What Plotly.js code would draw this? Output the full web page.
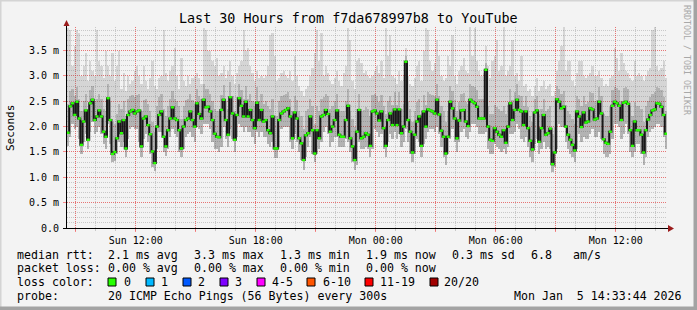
<!DOCTYPE html>
<html><head><meta charset="utf-8">
<script src="https://cdn.plot.ly/plotly-3.0.1.min.js"></script>
<style>html,body{margin:0;padding:0;background:#f3f3f3;overflow:hidden}#chart{width:697px;height:310px}</style>
</head><body><div id="chart"></div>
<script>
// ---- data (milliseconds), one value per 400 s step, 30 hours ----
const START_UTC = [2026, 0, 4, 8, 33, 44];
const END_LABEL = '2026-01-05 14:33:44';
const START_LABEL = '2026-01-04 08:33:44';
const STEP_SECONDS = 400;

const median = [
1.88,2.40,2.46,2.23,2.49,2.16,1.64,2.10,2.32,1.74,
2.46,2.53,2.13,2.20,2.32,2.20,1.90,1.80,2.56,2.13,
1.46,1.50,1.77,2.10,1.87,2.13,1.57,2.23,2.30,2.33,
2.26,2.30,2.32,1.61,2.16,2.20,2.03,1.85,1.51,1.28,
2.00,2.23,2.30,1.80,1.61,1.93,2.16,2.38,2.16,2.13,
1.93,1.57,2.00,2.13,2.16,2.30,2.13,2.00,2.46,2.25,
2.16,2.53,2.38,2.39,2.30,2.13,1.86,1.80,1.79,
2.33,2.53,2.13,1.84,2.58,2.26,1.74,2.23,2.56,2.41,
2.20,2.49,2.20,2.33,2.13,1.97,2.47,2.13,2.33,2.10,
2.13,1.93,1.87,2.20,1.57,1.57,2.13,2.26,2.30,2.33,
2.36,2.20,1.77,2.28,2.16,1.77,1.67,1.34,1.83,1.87,
2.20,1.93,1.47,1.93,1.77,2.20,2.23,2.33,2.25,1.90,
2.00,2.13,2.32,1.84,1.80,1.80,2.13,2.41,1.77,1.61,
1.34,1.90,2.33,1.77,1.80,1.87,1.84,1.62,
2.30,2.32,2.26,2.12,2.30,1.97,1.62,2.13,2.26,2.03,
2.34,2.03,2.34,1.87,2.00,3.28,2.13,1.90,1.49,1.84,
2.10,2.20,1.62,2.30,2.00,2.34,2.32,2.30,2.26,2.53,
2.24,1.92,1.80,1.47,1.80,2.49,2.36,2.16,1.77,2.12,
2.32,2.33,2.10,2.01,2.53,2.49,2.46,2.39,2.16,2.16,
2.16,3.12,2.00,1.74,1.72,1.97,1.90,1.84,1.80,1.93,
1.68,2.00,2.46,2.13,2.33,2.53,
2.33,2.30,2.03,2.30,1.97,1.72,1.55,2.28,2.32,1.70,
1.97,2.23,1.84,1.87,1.96,1.26,1.49,2.54,2.49,2.36,
2.39,2.00,1.84,1.74,1.64,1.53,2.30,2.20,1.99,2.28,
2.08,2.10,2.36,2.34,2.14,2.16,2.49,2.26,1.75,1.68,
1.66,1.90,2.41,2.49,2.46,2.41,2.13,2.47,2.49,2.45,
1.93,1.62,2.10,1.93,1.93,1.84,1.49,1.93,2.14,2.23,
2.32,2.34,2.46,2.45,2.39,2.23,1.86
];

const smokeMin = [
1.62,1.80,2.05,1.95,2.00,1.75,1.45,1.70,1.85,1.55,
1.90,2.10,1.85,1.90,2.00,1.85,1.65,1.55,2.05,1.65,
1.30,1.32,1.45,1.70,1.60,1.70,1.40,1.75,1.95,2.00,
1.95,1.95,1.70,1.40,1.75,1.85,1.70,1.45,1.20,1.12,
1.55,1.90,1.90,1.50,1.42,1.55,1.80,1.95,1.85,1.80,
1.50,1.40,1.55,1.80,1.85,1.90,1.80,1.70,2.00,1.95,
1.85,2.05,2.05,2.05,1.95,1.70,1.55,1.55,1.50,
1.60,2.00,1.75,1.60,1.95,1.75,1.50,1.80,2.05,2.00,
1.90,2.00,1.90,1.90,1.80,1.65,1.90,1.80,1.90,1.80,
1.80,1.65,1.60,1.70,1.38,1.38,1.60,1.95,2.00,2.00,
2.00,1.70,1.55,1.85,1.70,1.50,1.35,1.15,1.40,1.60,
1.80,1.45,1.30,1.45,1.55,1.70,1.90,2.00,1.85,1.60,
1.70,1.80,1.80,1.60,1.60,1.60,1.75,1.70,1.50,1.30,
1.15,1.25,1.70,1.55,1.55,1.60,1.55,1.40,
1.55,1.95,1.90,1.80,1.85,1.55,1.40,1.70,1.85,1.75,
1.90,1.75,1.85,1.60,1.70,1.95,1.70,1.45,1.30,1.45,
1.75,1.70,1.40,1.65,1.75,1.90,1.95,1.95,1.90,2.00,
1.85,1.60,1.40,1.25,1.45,1.75,1.95,1.70,1.50,1.70,
1.90,1.95,1.80,1.75,1.90,2.05,2.05,2.00,1.85,1.85,
1.85,1.90,1.55,1.45,1.45,1.65,1.60,1.55,1.50,1.55,
1.45,1.60,1.85,1.85,1.90,2.05,
1.95,1.75,1.70,1.80,1.60,1.40,1.30,1.65,1.75,1.45,
1.55,1.70,1.55,1.60,1.55,1.10,1.20,1.55,2.05,2.00,
2.00,1.70,1.55,1.45,1.40,1.30,1.55,1.85,1.70,1.80,
1.75,1.75,1.85,1.95,1.80,1.80,1.90,1.75,1.45,1.40,
1.40,1.45,1.75,2.05,2.05,2.00,1.75,1.85,2.05,1.85,
1.50,1.40,1.50,1.65,1.65,1.45,1.25,1.40,1.80,1.90,
1.95,2.00,2.05,2.05,2.00,1.80,1.55
];

const smokeUpper = [
2.45,2.70,2.75,2.60,2.78,2.55,2.30,2.50,2.65,2.35,
2.72,2.80,2.50,2.55,2.65,2.55,2.35,2.30,2.85,2.50,
2.10,2.05,2.25,2.45,2.35,2.50,2.20,2.55,2.60,2.62,
2.58,2.62,2.65,2.30,2.52,2.55,2.45,2.30,2.10,1.90,
2.40,2.58,2.65,2.35,2.20,2.40,2.55,2.70,2.55,2.50,
2.40,2.15,2.40,2.52,2.55,2.65,2.52,2.45,2.75,2.60,
2.55,2.85,2.75,2.75,2.65,2.50,2.35,2.30,2.30,
2.62,2.82,2.50,2.35,2.88,2.60,2.30,2.58,2.85,2.72,
2.55,2.80,2.55,2.65,2.50,2.40,2.78,2.50,2.65,2.45,
2.50,2.40,2.35,2.55,2.20,2.20,2.50,2.60,2.62,2.65,
2.68,2.55,2.30,2.60,2.52,2.30,2.20,1.95,2.30,2.35,
2.55,2.40,2.05,2.40,2.30,2.55,2.58,2.65,2.60,2.35,
2.40,2.50,2.65,2.35,2.30,2.30,2.50,2.75,2.30,2.15,
2.00,2.35,2.65,2.30,2.32,2.38,2.35,2.20,
2.62,2.65,2.60,2.48,2.62,2.40,2.25,2.50,2.60,2.42,
2.68,2.42,2.68,2.35,2.45,3.40,2.50,2.35,2.10,2.30,
2.48,2.55,2.25,2.62,2.42,2.68,2.65,2.62,2.60,2.85,
2.60,2.40,2.30,2.10,2.30,2.80,2.70,2.52,2.30,2.48,
2.65,2.66,2.48,2.45,2.85,2.80,2.78,2.72,2.55,2.55,
2.55,3.25,2.40,2.25,2.25,2.42,2.38,2.35,2.30,2.40,
2.25,2.42,2.75,2.52,2.68,2.85,
2.62,2.60,2.40,2.60,2.38,2.20,2.10,2.55,2.60,2.25,
2.35,2.55,2.30,2.35,2.40,1.85,2.00,2.80,2.75,2.65,
2.70,2.42,2.30,2.25,2.15,2.05,2.60,2.55,2.40,2.60,
2.45,2.48,2.68,2.66,2.50,2.52,2.78,2.60,2.25,2.20,
2.20,2.38,2.72,2.78,2.76,2.72,2.50,2.76,2.78,2.75,
2.40,2.20,2.48,2.40,2.40,2.35,2.10,2.40,2.50,2.58,
2.65,2.68,2.78,2.76,2.72,2.58,2.30
];

const smokeMax = [
3.95,3.90,3.20,3.60,3.90,3.85,3.00,3.20,3.45,2.90,
3.30,3.10,3.00,3.90,3.30,3.20,2.95,3.50,3.20,3.00,
3.45,2.90,3.20,3.50,2.75,3.05,2.70,3.00,2.85,2.90,
3.10,3.20,3.00,2.85,3.20,2.90,2.75,2.95,3.30,2.80,
2.75,2.95,3.00,3.90,3.05,2.90,3.10,3.20,3.55,3.00,
2.75,3.35,2.90,2.80,3.00,2.85,2.95,3.00,3.05,2.95,
2.85,3.95,3.90,3.50,3.50,3.30,3.20,3.35,3.00,
3.05,3.20,2.95,3.10,3.30,3.00,2.85,3.05,3.20,3.30,
3.90,3.50,3.55,3.20,3.05,2.90,3.10,2.95,3.00,2.95,
3.00,3.20,3.80,3.85,3.40,2.90,2.95,3.05,3.10,3.00,
2.95,3.10,2.90,3.40,3.00,2.80,2.70,2.60,2.75,2.80,
3.00,3.15,3.45,3.90,3.30,3.85,3.00,3.20,3.05,2.90,
2.85,2.95,3.10,2.90,2.80,3.05,3.20,3.95,3.70,2.90,
2.75,3.30,3.35,3.25,3.05,3.10,3.00,2.95,
3.00,3.10,3.20,3.05,3.30,2.95,3.95,3.40,3.80,3.00,
2.95,2.85,3.10,2.90,3.00,3.55,3.00,2.85,2.80,2.95,
3.20,3.30,2.90,3.50,3.95,3.90,3.30,3.10,3.25,3.70,
3.40,3.00,2.90,2.95,3.40,3.20,3.80,3.00,2.85,3.10,
3.20,3.35,3.10,3.05,3.97,3.40,3.95,3.30,3.10,3.00,
3.05,3.60,3.20,2.95,3.30,3.40,3.70,3.10,3.20,3.97,
3.00,3.10,3.20,3.70,3.00,3.05,
2.90,3.40,2.80,2.85,2.70,2.75,2.60,2.80,2.95,2.70,
2.80,2.90,2.75,2.80,2.85,2.60,2.70,3.10,3.30,3.60,
3.97,3.10,3.30,3.30,2.90,2.80,3.05,3.30,3.30,3.00,
2.95,3.00,3.05,3.20,3.00,3.00,3.10,2.95,2.80,2.85,
2.80,2.95,3.00,3.55,3.35,3.10,3.45,3.25,3.10,3.05,
2.95,2.90,3.30,3.00,3.05,3.00,2.90,3.00,3.10,3.15,
3.90,3.97,3.20,3.10,3.15,3.30,2.95
];

const xTickVals = ['2026-01-04 09:00','2026-01-04 12:00','2026-01-04 15:00','2026-01-04 18:00','2026-01-04 21:00',
                   '2026-01-05 00:00','2026-01-05 03:00','2026-01-05 06:00','2026-01-05 09:00','2026-01-05 12:00'];
const xTickText = ['','Sun 12:00','','Sun 18:00','','Mon 00:00','','Mon 06:00','','Mon 12:00'];
const yTickVals = [0, 0.5, 1.0, 1.5, 2.0, 2.5, 3.0, 3.5];
const yTickText = ['0.0','0.5 m','1.0 m','1.5 m','2.0 m','2.5 m','3.0 m','3.5 m'];

const titleText = 'Last 30 Hours from f7da678997b8 to YouTube';
const rttStats = ['median rtt:', '2.1 ms avg', '3.3 ms max', '1.3 ms min', '1.9 ms now', '0.3 ms sd', '6.8', 'am/s'];
const lossStats = ['packet loss:', '0.00 % avg', '0.00 % max', '0.00 % min', '0.00 % now'];
const lossLabels = ['0','1','2','3','4-5','6-10','11-19','20/20'];
const lossColors = ['#26ff00','#00b8ff','#0059ff','#7e00ff','#ff00ff','#ff5500','#ff0000','#a10000'];
const probeText = ['probe:', '20 ICMP Echo Pings (56 Bytes) every 300s', 'Mon Jan\u00a0\u00a05 14:33:44 2026'];

// ---- layout geometry (pixels) ----
const W = 697, H = 310, L = 67, R = 667, T = 27, B = 228;
const px = x => (x - L) / (R - L);
const py = y => (B - y) / (B - T);
const FONT = 'DejaVu Sans Mono';

const t0 = Date.UTC.apply(null, START_UTC);
const stepMs = STEP_SECONDS * 1000;
const times = median.map((_, i) => t0 + (i + 0.5) * stepMs);

const traces = [
  { type: 'bar', x: times, base: smokeMin, y: smokeMax.map((v, i) => v - smokeMin[i]), width: stepMs,
    marker: { color: 'rgba(110,110,110,0.22)', line: { width: 0 } }, hoverinfo: 'skip' },
  { type: 'bar', x: times, base: smokeMin, y: smokeUpper.map((v, i) => v - smokeMin[i]), width: stepMs,
    marker: { color: 'rgba(60,60,60,0.22)', line: { width: 0 } }, hoverinfo: 'skip' },
  { type: 'scatter', mode: 'lines', x: times, y: median,
    line: { shape: 'hvh', color: '#181818', width: 2 }, hoverinfo: 'skip' },
  { type: 'scatter', mode: 'markers', x: times, y: median,
    marker: { symbol: 'line-ew', size: 2.2, color: '#26ff00', line: { width: 2.4, color: '#26ff00' } }, hoverinfo: 'skip' }
];

const shapes = [];
const annotations = [];
function rectPx(x0, y0, x1, y1, fill, lineColor, lw) {
  shapes.push({ type: 'rect', xref: 'paper', yref: 'paper', x0: px(x0), x1: px(x1), y0: py(y1), y1: py(y0),
    fillcolor: fill, line: { color: lineColor || fill, width: lw || 0 }, layer: 'above' });
}
function linePx(x0, y0, x1, y1, color, w) {
  shapes.push({ type: 'line', xref: 'paper', yref: 'paper', x0: px(x0), x1: px(x1), y0: py(y0), y1: py(y1),
    line: { color: color, width: w }, layer: 'above' });
}
function triPx(pts, color) {
  const p = pts.map((q, k) => (k ? 'L' : 'M') + px(q[0]) + ',' + py(q[1])).join(' ') + ' Z';
  shapes.push({ type: 'path', xref: 'paper', yref: 'paper', path: p, fillcolor: color, line: { color: color, width: 0 }, layer: 'above' });
}
function textPx(x, y, text, opts) {
  annotations.push(Object.assign({ xref: 'paper', yref: 'paper', x: px(x), y: py(y), text: text, showarrow: false,
    xanchor: 'left', yanchor: 'middle', borderpad: 0, font: { family: FONT, size: 11.6, color: '#000' } }, opts || {}));
}

// frame
rectPx(0, 0, W, 1.5, '#d4d4d4');
rectPx(0, 0, 1.5, H, '#d4d4d4');
rectPx(W - 3.5, 0, W, H, '#a3a3a3');
rectPx(0, H - 3.5, W, H, '#a3a3a3');

// axes + arrows
linePx(63, 228.5, 668, 228.5, '#000', 1);
linePx(66.5, 229, 66.5, 25, '#000', 1);
triPx([[668, 225], [668, 232], [674, 228.5]], '#9b1c1c');
triPx([[63.5, 26], [69.5, 26], [66.5, 20]], '#9b1c1c');

// title, axis title, side text
textPx(348, 18.5, titleText, { xanchor: 'center', font: { family: FONT, size: 13.4, color: '#000' } });
textPx(10, 128, 'Seconds', { xanchor: 'center', textangle: -90, font: { family: FONT, size: 11, color: '#000' } });
textPx(687, 60, 'RRDTOOL / TOBI OETIKER', { xanchor: 'center', textangle: 90, font: { family: FONT, size: 8.3, color: '#a8a8a8' } });

// legend rows
const rttX = [16, 107, 193, 279, 365, 451, 530, 572];
rttStats.forEach((s, k) => textPx(rttX[k], 254.5, s));
const lossX = [16, 107, 193, 279, 365];
lossStats.forEach((s, k) => textPx(lossX[k], 268, s));
textPx(16, 282, 'loss color:');
const boxX = [108, 146, 183, 220, 257, 307, 365, 430];
const labX = [123, 160, 197, 234, 271, 321.5, 379, 443.5];
lossLabels.forEach((s, k) => {
  rectPx(boxX[k], 278, boxX[k] + 8, 286, lossColors[k], '#000', 1);
  textPx(labX[k], 282, s);
});
const probeX = [16, 107, 513];
probeText.forEach((s, k) => textPx(probeX[k], 296, s));

const gridMajor = 'rgba(255,50,50,0.55)';
const gridMinor = 'rgba(140,140,140,0.42)';
const layout = {
  width: W, height: H, margin: { l: L, r: W - R, t: T, b: H - B, pad: 0 },
  paper_bgcolor: '#f3f3f3', plot_bgcolor: '#f3f3f3',
  showlegend: false, barmode: 'overlay', hovermode: false, bargap: 0,
  font: { family: FONT, size: 10, color: '#000' },
  xaxis: {
    type: 'date', range: [START_LABEL, END_LABEL], fixedrange: true,
    tickmode: 'array', tickvals: xTickVals, ticktext: xTickText,
    showgrid: true, gridcolor: gridMajor, griddash: '1px,1px', gridwidth: 1,
    ticks: 'outside', ticklen: 3, tickcolor: gridMajor, showline: false, zeroline: false,
    tickfont: { family: FONT, size: 10, color: '#000' },
    minor: { tickmode: 'linear', tick0: '2026-01-04 09:00', dtick: 3600000, showgrid: true, gridcolor: gridMinor,
             griddash: '1px,1px', gridwidth: 1, ticks: 'outside', ticklen: 2, tickcolor: gridMinor }
  },
  yaxis: {
    range: [0, 3.965], fixedrange: true,
    tickmode: 'array', tickvals: yTickVals, ticktext: yTickText,
    showgrid: true, gridcolor: gridMajor, griddash: '1px,1px', gridwidth: 1,
    ticks: 'outside', ticklen: 3, tickcolor: gridMajor, showline: false, zeroline: false,
    ticklabelstandoff: 2,
    tickfont: { family: FONT, size: 10, color: '#000' },
    minor: { tickmode: 'linear', tick0: 0, dtick: 0.1, showgrid: true, gridcolor: gridMinor,
             griddash: '1px,1px', gridwidth: 1, ticks: '', ticklen: 0 }
  },
  shapes: shapes,
  annotations: annotations
};

Plotly.newPlot('chart', traces, layout, { staticPlot: true, displayModeBar: false });
</script>
</body></html>
